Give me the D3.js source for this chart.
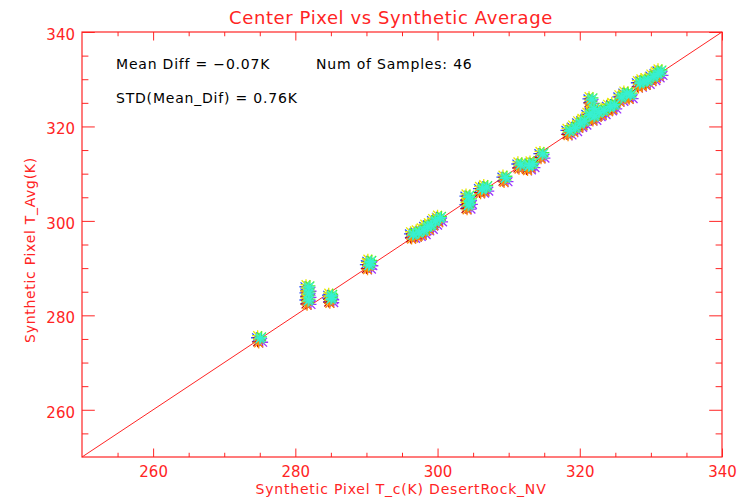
<!DOCTYPE html>
<html>
<head>
<meta charset="utf-8">
<script src="https://cdn.jsdelivr.net/npm/d3@7"></script>
<style>
  body { margin: 0; background: #fff; }
  text { font-family: "DejaVu Sans", sans-serif; }
</style>
</head>
<body>
<div id="chart"></div>
<script>
// center pixel temperature (x) and synthetic average (y), one per sample
var tc   = [275.0, 281.8, 281.8, 281.8, 285.0, 285.0, 290.3, 290.5, 296.5, 297.3,
            298.0, 298.5, 299.0, 299.6, 300.3, 304.3, 304.3, 304.5, 306.2, 306.8,
            309.5, 311.6, 312.8, 313.3, 314.7, 318.5, 319.3, 320.0, 320.6, 321.3,
            321.6, 322.0, 322.6, 323.3, 324.2, 324.8, 325.8, 326.5, 327.1, 328.4,
            328.9, 329.5, 330.3, 330.9, 331.3, 321.9]
var tavg = [275.0, 285.8, 284.5, 283.0, 284.0, 283.4, 290.5, 291.2, 297.0, 297.4,
            297.8, 298.6, 298.9, 299.8, 300.5, 305.0, 303.2, 304.2, 306.6, 307.0,
            309.0, 311.8, 311.5, 312.0, 314.0, 318.9, 319.6, 320.5, 321.0, 322.3,
            325.6, 322.0, 322.8, 323.2, 324.0, 324.4, 326.0, 326.8, 326.6, 329.0,
            329.4, 329.6, 330.4, 331.0, 331.5, 323.6]

// synthetic pixel layers drawn for each sample (colour table entries, small shifts in K)
var pixelColors = ['#9b30ff', '#2850ff', '#c01010', '#ff8c00', '#e8e800', '#40f040', '#30e8c8', '#38f0d0']
var pixelDx     = [0.40, -0.45, -0.30, -0.15, -0.30, 0.25, 0.00, 0.12]
var pixelDy     = [-0.70, 0.25, -0.60, -0.85, 0.70, 0.45, 0.00, 0.20]

var majorTicks = [260, 280, 300, 320, 340]
var minorTicks = d3.range(255, 340, 5).filter(function(v) { return v % 20 != 0 })

var title = 'Center Pixel vs Synthetic Average'
var xTitle = 'Synthetic Pixel T_c(K) DesertRock_NV'
var yTitle = 'Synthetic Pixel T_Avg(K)'
var notes = ['Mean Diff = \u22120.07K', 'Num of Samples: 46', 'STD(Mean_Dif) = 0.76K']

var red = '#ff2424'
var width = 738, height = 500
var pLeft = 82, pRight = 722, pTop = 32, pBottom = 457

var svg = d3.select('#chart').append('svg')
  .attr('width', width)
  .attr('height', height)

svg.append('rect').attr('width', width).attr('height', height).attr('fill', '#fff')

var x = d3.scaleLinear().domain([250, 340]).range([pLeft, pRight])
var y = d3.scaleLinear().domain([250, 340]).range([pBottom, pTop])

var plotW = pRight - pLeft, plotH = pBottom - pTop
var xMaj = plotH * 0.02, yMaj = plotW * 0.02

function styleAxis(g, dy) {
  g.select('.domain').remove()
  g.selectAll('line').attr('stroke', red).attr('stroke-width', 1)
  g.selectAll('text').attr('fill', red).attr('dy', dy || null).style('font-size', '15px')
}

// bottom
svg.append('g').attr('transform', 'translate(0,' + pBottom + ')')
  .call(d3.axisBottom(x).tickValues(majorTicks).tickSizeInner(-xMaj).tickSizeOuter(0).tickPadding(9).tickFormat(d3.format('d')))
  .call(styleAxis, '0.71em')
svg.append('g').attr('transform', 'translate(0,' + pBottom + ')')
  .call(d3.axisBottom(x).tickValues(minorTicks).tickSizeInner(-xMaj / 2).tickSizeOuter(0).tickFormat(''))
  .call(styleAxis)
// top
svg.append('g').attr('transform', 'translate(0,' + pTop + ')')
  .call(d3.axisTop(x).tickValues(majorTicks).tickSizeInner(-xMaj).tickSizeOuter(0).tickFormat(''))
  .call(styleAxis)
svg.append('g').attr('transform', 'translate(0,' + pTop + ')')
  .call(d3.axisTop(x).tickValues(minorTicks).tickSizeInner(-xMaj / 2).tickSizeOuter(0).tickFormat(''))
  .call(styleAxis)
// left
svg.append('g').attr('transform', 'translate(' + pLeft + ',0)')
  .call(d3.axisLeft(y).tickValues(majorTicks).tickSizeInner(-yMaj).tickSizeOuter(0).tickPadding(7).tickFormat(d3.format('d')))
  .call(styleAxis, '0.5em')
svg.append('g').attr('transform', 'translate(' + pLeft + ',0)')
  .call(d3.axisLeft(y).tickValues(minorTicks).tickSizeInner(-yMaj / 2).tickSizeOuter(0).tickFormat(''))
  .call(styleAxis)
// right
svg.append('g').attr('transform', 'translate(' + pRight + ',0)')
  .call(d3.axisRight(y).tickValues(majorTicks).tickSizeInner(-yMaj).tickSizeOuter(0).tickFormat(''))
  .call(styleAxis)
svg.append('g').attr('transform', 'translate(' + pRight + ',0)')
  .call(d3.axisRight(y).tickValues(minorTicks).tickSizeInner(-yMaj / 2).tickSizeOuter(0).tickFormat(''))
  .call(styleAxis)

// frame
svg.append('rect')
  .attr('x', pLeft).attr('y', pTop)
  .attr('width', plotW).attr('height', plotH)
  .attr('fill', 'none').attr('stroke', red).attr('stroke-width', 1.2)

// one to one line
svg.append('line')
  .attr('x1', x(250)).attr('y1', y(250))
  .attr('x2', x(340)).attr('y2', y(340))
  .attr('stroke', red).attr('stroke-width', 1)

// asterisk markers
var points = []
pixelColors.forEach(function(c, k) {
  tc.forEach(function(v, i) {
    points.push({ x: v + pixelDx[k], y: tavg[i] + pixelDy[k], color: c })
  })
})

var r = 5.5
var star = 'M0,' + (-r) + 'V' + r +
  'M' + (-r) + ',0H' + r +
  'M' + (-r * 0.8) + ',' + (-r * 0.8) + 'L' + (r * 0.8) + ',' + (r * 0.8) +
  'M' + (-r * 0.8) + ',' + (r * 0.8) + 'L' + (r * 0.8) + ',' + (-r * 0.8)

svg.append('g').selectAll('path')
  .data(points)
  .enter().append('path')
    .attr('transform', function(d) { return 'translate(' + x(d.x) + ',' + y(d.y) + ')' })
    .attr('d', star)
    .attr('fill', 'none')
    .attr('stroke', function(d) { return d.color })
    .attr('stroke-width', 1.3)

// titles
svg.append('text')
  .attr('x', 391).attr('y', 24)
  .attr('text-anchor', 'middle')
  .attr('fill', red)
  .style('font-size', '18px')
  .style('letter-spacing', '0.6px')
  .text(title)

svg.append('text')
  .attr('x', 401).attr('y', 494)
  .attr('text-anchor', 'middle')
  .attr('fill', red)
  .style('font-size', '14px')
  .style('letter-spacing', '0.8px')
  .text(xTitle)

svg.append('text')
  .attr('transform', 'translate(35,250) rotate(-90)')
  .attr('text-anchor', 'middle')
  .attr('fill', red)
  .style('font-size', '14px')
  .style('letter-spacing', '0.7px')
  .text(yTitle)

// stats
var notePos = [[116, 69], [316, 69], [116, 103]]
svg.selectAll('.note')
  .data(notes)
  .enter().append('text')
    .attr('class', 'note')
    .attr('x', function(d, i) { return notePos[i][0] })
    .attr('y', function(d, i) { return notePos[i][1] })
    .attr('fill', '#000')
    .style('font-size', '14px')
    .style('letter-spacing', '0.8px')
    .text(function(d) { return d })
</script>
</body>
</html>
